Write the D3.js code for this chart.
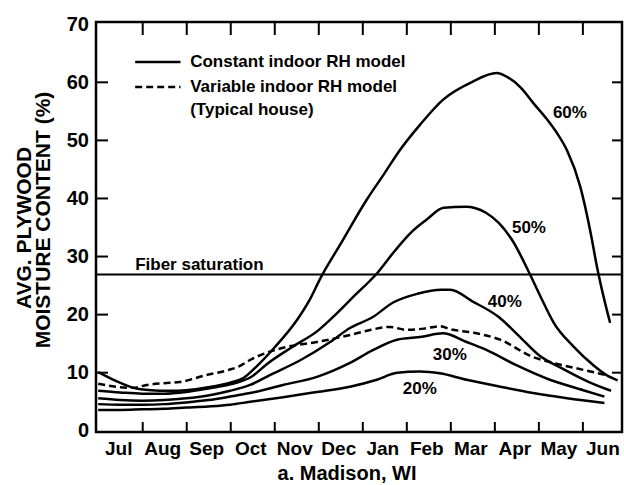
<!DOCTYPE html>
<html>
<head>
<meta charset="utf-8" />
<title>Plywood moisture content - Madison, WI</title>
<style type="text/css">
  *{margin:0px;padding:0px;}
  body{background:#fff;}
  svg text{font-family:"Liberation Sans", Arial, sans-serif;font-weight:bold;fill:#000;}
</style>
</head>
<body>
<script src="https://cdn.jsdelivr.net/npm/d3@7/dist/d3.min.js"></script>
<script type="text/javascript">
  // x = months since Jul 1 (0..12), y = avg plywood moisture content (%)
  var months = ["Jul","Aug","Sep","Oct","Nov","Dec","Jan","Feb","Mar","Apr","May","Jun"];
  var yTicks = [0,10,20,30,40,50,60,70];
  var fiberSat = 26.8;

  // constant indoor RH model
  var rh60 = [[0,10.0],[0.4,8.5],[0.8,7.3],[1.2,6.9],[1.6,6.8],[2,6.9],[2.5,7.4],[3,8.2],[3.3,9.0],[3.6,11.0],[4,14.2],[4.5,18.8],[4.8,22.4],[5.05,26.2],[5.5,32.0],[6.1,39.7],[6.5,44.2],[6.86,48.3],[7.3,52.5],[7.83,56.9],[8.5,60],[9.05,61.5],[9.3,60.8],[9.6,59],[9.9,56.2],[10.2,53.5],[10.42,51.2],[10.65,48.2],[10.95,42],[11.2,33.5],[11.33,28.2],[11.45,24],[11.63,18.5]];
  var rh50 = [[0,6.8],[0.5,6.5],[1,6.3],[1.5,6.3],[2,6.6],[2.5,7.2],[3,7.9],[3.5,9.3],[3.85,11.5],[4.4,14.3],[5,17.2],[5.35,19.6],[5.8,23],[6.33,27],[6.75,31],[7.1,34],[7.45,36.2],[7.85,38.3],[8.35,38.5],[8.8,37.5],[9.1,35.7],[9.4,32.8],[9.8,27],[10.05,23],[10.35,18.5],[10.8,14.4],[11.25,11.2],[11.55,9.5],[11.8,8.6]];
  var rh40 = [[0,5.5],[0.5,5.2],[1,5.1],[1.5,5.2],[2,5.5],[2.5,6.0],[3,6.8],[3.45,7.8],[3.9,9.5],[4.6,12.1],[5.27,15.2],[5.72,17.6],[6.24,19.5],[6.7,22],[7.25,23.5],[7.8,24.2],[8.0,24.2],[8.5,22.2],[9.1,19.5],[9.55,16.3],[10.0,13],[10.6,10.4],[11.15,8.3],[11.65,6.8]];
  var rh30 = [[0,4.5],[0.5,4.4],[1,4.4],[1.5,4.5],[2,4.8],[2.5,5.2],[3,5.8],[3.45,6.4],[4.2,7.8],[4.97,9.2],[5.72,11.6],[6.24,13.8],[6.79,15.6],[7.35,16.1],[7.83,16.7],[8.37,15.2],[8.83,13.8],[9.5,11.2],[10.26,8.7],[11.02,6.9],[11.5,5.8]];
  var rh20 = [[0,3.5],[0.5,3.5],[1,3.6],[1.5,3.7],[2,3.9],[2.5,4.1],[3,4.4],[3.45,4.9],[4.2,5.7],[4.97,6.6],[5.72,7.5],[6.33,8.7],[6.79,9.9],[7.31,10.1],[7.76,9.8],[8.37,8.7],[9.13,7.5],[9.88,6.4],[10.65,5.5],[11.5,4.7]];
  // variable indoor RH model (typical house)
  var variableRH = [[0,8.0],[0.4,7.5],[0.8,7.3],[1.1,7.8],[1.5,8.1],[1.85,8.3],[2.45,9.5],[2.97,10.4],[3.2,11.0],[3.45,12.1],[4.2,14.2],[4.97,15.2],[5.72,16.4],[6.2,17.3],[6.63,17.8],[7.0,17.3],[7.4,17.5],[7.76,17.9],[8.0,17.4],[8.52,16.8],[9.13,15.6],[9.88,12.6],[10.34,11.6],[11.02,10.4],[11.55,9.5]];

  var constSeries = [rh60, rh50, rh40, rh30, rh20];

  var svg = d3.select("body").append("svg").attr("width", 624).attr("height", 485);

  var x = d3.scaleLinear().domain([-0.05, 11.9]).range([96, 622]);
  var y = d3.scaleLinear().domain([-0.3, 70.3]).range([432, 22]);

  // ticks: inward on all four sides
  var gl = svg.append("g").attr("transform", "translate(96,0)")
    .call(d3.axisLeft(y).tickValues(yTicks).tickSize(-12).tickPadding(7));
  gl.selectAll("text").style("font-size", "20px");
  gl.selectAll(".tick").filter(function(d){return d==0 || d==70}).select("line").remove();

  var gr = svg.append("g").attr("transform", "translate(622,0)")
    .call(d3.axisRight(y).tickValues(yTicks.slice(1, 7)).tickSize(-10).tickFormat(""));

  var monthEdges = d3.range(1, 12);
  svg.append("g").attr("transform", "translate(0,22)")
    .call(d3.axisTop(x).tickValues(monthEdges).tickSize(-13).tickFormat(""));
  svg.append("g").attr("transform", "translate(0,432)")
    .call(d3.axisBottom(x).tickValues(monthEdges).tickSize(-10).tickFormat(""));

  // month names centred in each month
  var gb = svg.append("g").attr("transform", "translate(0,432)")
    .call(d3.axisBottom(x).tickValues(d3.range(12).map(function(i){return i+0.5}))
      .tickSize(0).tickPadding(10).tickFormat(function(d){return months[Math.floor(d)]}));
  gb.selectAll("text").style("font-size", "19px").attr("dx", "-2");

  svg.selectAll(".domain").remove();
  svg.selectAll(".tick line").attr("stroke", "#000").attr("stroke-width", 2);

  // frame
  svg.append("rect").attr("x", 96).attr("y", 22).attr("width", 526).attr("height", 410)
    .attr("fill", "none").attr("stroke", "#000").attr("stroke-width", 2.5);

  // fiber saturation
  svg.append("line").attr("x1", x.range()[0]).attr("x2", x.range()[1])
    .attr("y1", y(fiberSat)).attr("y2", y(fiberSat))
    .attr("stroke", "#000").attr("stroke-width", 2);
  svg.append("text").attr("x", x(0.84)).attr("y", y(27.6)).style("font-size", "17px").text("Fiber saturation");

  var line = d3.line().x(function(d){return x(d[0])}).y(function(d){return y(d[1])}).curve(d3.curveMonotoneX);

  svg.selectAll("path.rh").data(constSeries).enter().append("path")
    .attr("class", "rh").attr("d", line)
    .attr("fill", "none").attr("stroke", "#000").attr("stroke-width", 2.5);

  svg.append("path").datum(variableRH).attr("d", line)
    .attr("fill", "none").attr("stroke", "#000").attr("stroke-width", 2.5)
    .attr("stroke-dasharray", "7,4");

  // curve labels
  var curveLabels = [["60%", 10.33, 53.8], ["50%", 9.4, 34.0], ["40%", 8.85, 21.3], ["30%", 7.6, 12.1], ["20%", 6.92, 6.3]];
  svg.selectAll("text.lab").data(curveLabels).enter().append("text")
    .attr("class", "lab")
    .attr("x", function(d){return x(d[1])})
    .attr("y", function(d){return y(d[2])})
    .style("font-size", "17px")
    .text(function(d){return d[0]});

  // legend
  svg.append("line").attr("x1", x(0.84)).attr("x2", x(1.87)).attr("y1", y(63.4)).attr("y2", y(63.4))
    .attr("stroke", "#000").attr("stroke-width", 2.5);
  svg.append("line").attr("x1", x(0.84)).attr("x2", x(1.87)).attr("y1", y(59.1)).attr("y2", y(59.1))
    .attr("stroke", "#000").attr("stroke-width", 2.5).attr("stroke-dasharray", "7,4");
  svg.append("text").attr("x", x(2.09)).attr("y", y(62.6)).style("font-size", "17px").text("Constant indoor RH model");
  svg.append("text").attr("x", x(2.09)).attr("y", y(58.3)).style("font-size", "17px").text("Variable indoor RH model");
  svg.append("text").attr("x", x(2.09)).attr("y", y(54.3)).style("font-size", "17px").text("(Typical house)");

  // axis titles
  svg.append("text").attr("transform", "translate(31,228) rotate(-90)")
    .attr("text-anchor", "middle").style("font-size", "21px").text("AVG.  PLYWOOD");
  svg.append("text").attr("transform", "translate(50,220) rotate(-90)")
    .attr("text-anchor", "middle").style("font-size", "21px").text("MOISTURE CONTENT (%)");
  svg.append("text").attr("x", 347).attr("y", 480).attr("text-anchor", "middle")
    .style("font-size", "20px").text("a. Madison, WI");
</script>
</body>
</html>
